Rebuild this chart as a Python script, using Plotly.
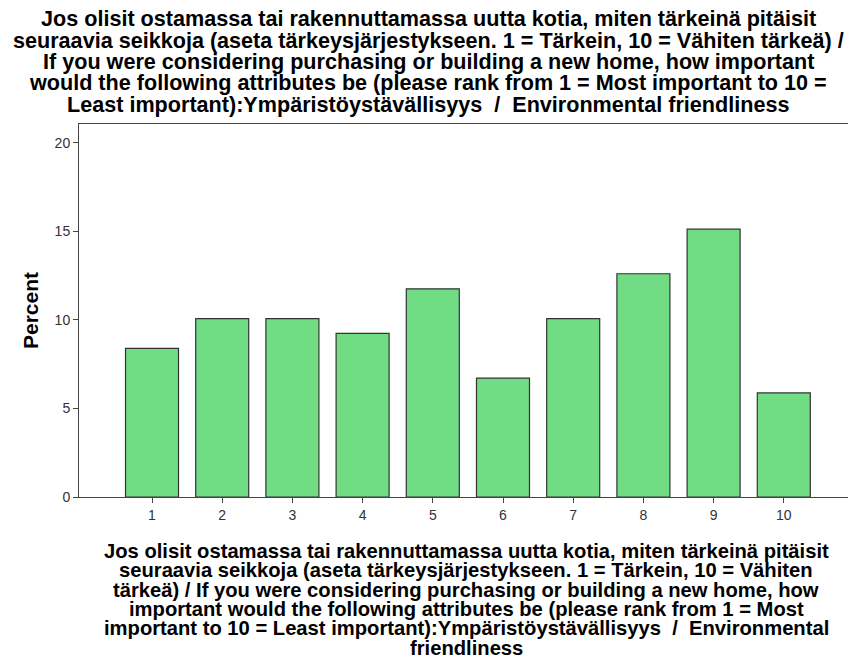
import plotly.graph_objects as go

categories = [1, 2, 3, 4, 5, 6, 7, 8, 9, 10]
tick_labels = ["1", "2", "3", "4", "5", "6", "7", "8", "9", "10"]
percent = [8.40, 10.08, 10.08, 9.24, 11.76, 6.72, 10.08, 12.61, 15.13, 5.88]
y_ticks = [0, 5, 10, 15, 20]

title_lines = [
    "Jos olisit ostamassa tai rakennuttamassa uutta kotia, miten tärkeinä pitäisit",
    "seuraavia seikkoja (aseta tärkeysjärjestykseen. 1 = Tärkein, 10 = Vähiten tärkeä) /",
    "If you were considering purchasing or building a new home, how important",
    "would the following attributes be (please rank from 1 = Most important to 10 =",
    "Least important):Ympäristöystävällisyys  /  Environmental friendliness",
]
xtitle_lines = [
    "Jos olisit ostamassa tai rakennuttamassa uutta kotia, miten tärkeinä pitäisit",
    "seuraavia seikkoja (aseta tärkeysjärjestykseen. 1 = Tärkein, 10 = Vähiten",
    "tärkeä) / If you were considering purchasing or building a new home, how",
    "important would the following attributes be (please rank from 1 = Most",
    "important to 10 = Least important):Ympäristöystävällisyys  /  Environmental",
    "friendliness",
]
ytitle = "Percent"

# page body has an 8px margin; figure is sized to fit the 856x659 window
OFF = 8
W, H = 856 - OFF, 659 - OFF
PL, PR, PT, PB = 79, 854, 124, 497  # plot box in window pixels
L, R, T, B = PL - OFF, W - (PR - OFF), PT - OFF, H - (PB - OFF)
pw, ph = PR - PL, PB - PT

def xp(px):
    return (px - PL) / pw

def yp(py):
    return (PB - py) / ph

FONT = "Liberation Sans, Arial, sans-serif"

fig = go.Figure()
fig.add_trace(go.Bar(
    x=categories, y=percent, width=0.755,
    marker=dict(color="#70dc84", line=dict(color="#333333", width=1.2)),
))

annotations = []
for i, line in enumerate(title_lines):
    annotations.append(dict(
        text="<b>" + line + "</b>", xref="paper", yref="paper",
        x=xp(428), y=yp(18.5 + 21.5 * i), xanchor="center", yanchor="middle",
        showarrow=False, font=dict(size=21.6, color="#000000", family=FONT)))
for i, line in enumerate(xtitle_lines):
    annotations.append(dict(
        text="<b>" + line + "</b>", xref="paper", yref="paper",
        x=xp(466), y=yp(551 + 19.3 * i), xanchor="center", yanchor="middle",
        showarrow=False, font=dict(size=20.2, color="#000000", family=FONT)))
annotations.append(dict(
    text="<b>" + ytitle + "</b>", xref="paper", yref="paper",
    x=xp(30), y=yp(310), xanchor="center", yanchor="middle", textangle=-90,
    showarrow=False, font=dict(size=21, color="#000000", family=FONT)))

fig.update_layout(
    width=W, height=H,
    margin=dict(l=L, r=R, t=T, b=B, pad=0),
    paper_bgcolor="white", plot_bgcolor="white",
    showlegend=False,
    font=dict(family=FONT, color="#000000"),
    xaxis=dict(
        range=[-0.04, 11.0], tickmode="array", tickvals=categories, ticktext=tick_labels,
        ticks="outside", ticklen=5, tickcolor="#444444", tickfont=dict(size=14, color="#333333"),
        showline=True, linecolor="#444444", linewidth=1, mirror=True, showgrid=False, zeroline=False,
    ),
    yaxis=dict(
        range=[0, 21.07], tickmode="array", tickvals=y_ticks,
        ticks="outside", ticklen=5, tickcolor="#444444", tickfont=dict(size=14, color="#333333"),
        showline=True, linecolor="#444444", linewidth=1, mirror=True, showgrid=False, zeroline=False,
    ),
    annotations=annotations,
)

fig.write_html("out.html")
